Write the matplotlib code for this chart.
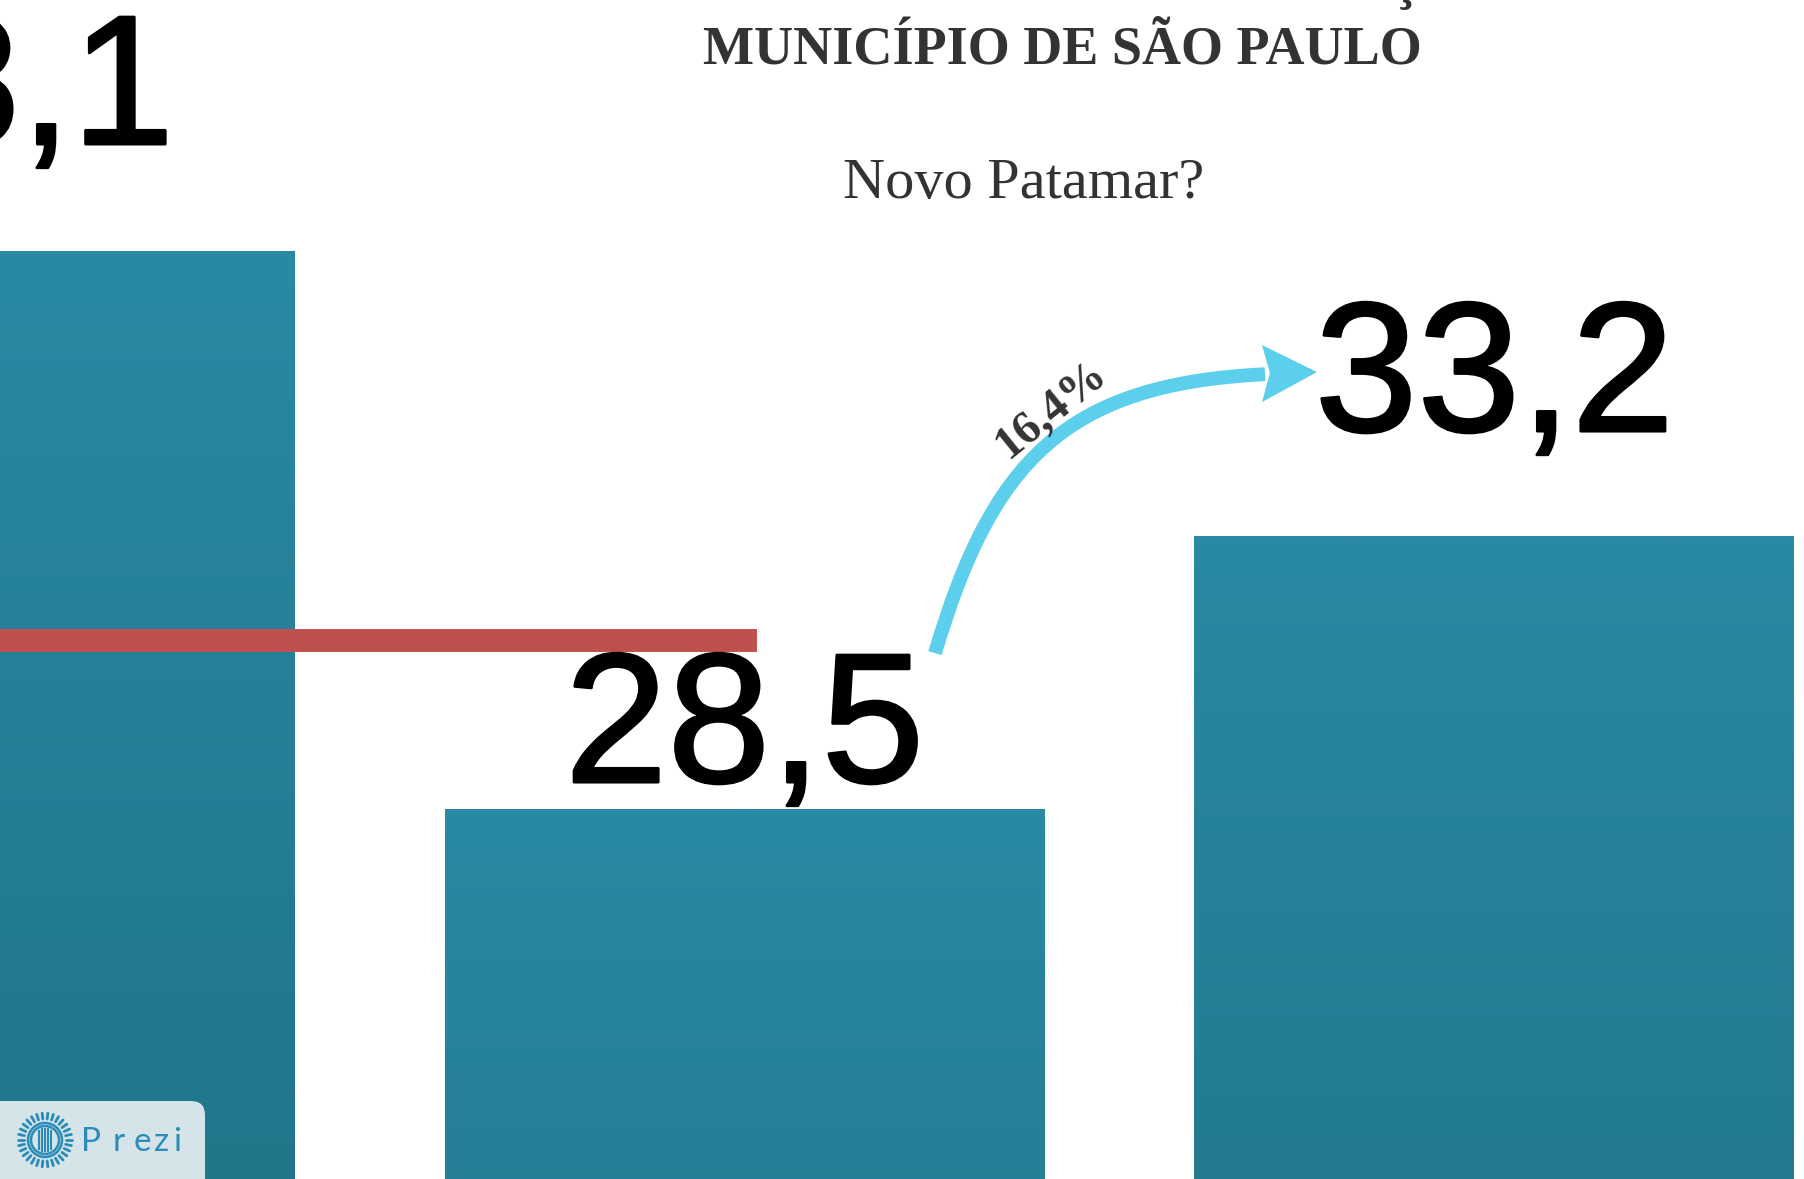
import matplotlib
matplotlib.use("Agg")
import matplotlib.pyplot as plt
import matplotlib.patheffects as pe
import numpy as np
from matplotlib.patches import FancyBboxPatch, PathPatch, Polygon, Circle
from matplotlib.path import Path

# dados do gráfico (recorte do slide)
posicoes = [0, 1, 2]
valores = [38.1, 28.5, 33.2]
rotulos = ["38,1", "28,5", "33,2"]
deslocamento_rotulo = [1.84, 0.46, 1.80]
media = 31.4
variacao = "16,4%"
titulo = "MUNICÍPIO DE SÃO PAULO"
subtitulo = "Novo Patamar?"

fig = plt.figure(figsize=(18.04, 11.79), dpi=100)
fig.patch.set_facecolor("white")
ax = fig.add_axes([0, 0, 1, 1])
ax.axis("off")

# barras com degradê (como no Excel)
barras = ax.bar(posicoes, valores, width=0.8, color="none", edgecolor="none", zorder=1)
topo = np.array([42, 137, 163]) / 255
base = np.array([21, 92, 103]) / 255
frac = np.linspace(0, 1, 256)[:, None]
img = (base + (topo - base) * frac)[:, None, :]
for b, v in zip(barras, valores):
    im = ax.imshow(img, extent=[b.get_x(), b.get_x() + b.get_width(), 0, v],
                   origin="lower", aspect="auto", interpolation="bilinear", zorder=1)
    im.set_clip_path(b)

ax.set_xlim(0.0073, 2.4127)
ax.set_ylim(22.13, 42.42)

# linha vermelha (patamar anterior)
ax.plot([0, 1], [media, media], color="#C0504D", lw=16.5,
        solid_capstyle="projecting", zorder=2)

# rótulos grandes (traço leve para ficar um pouco mais encorpado)
for p, v, r, d in zip(posicoes, valores, rotulos, deslocamento_rotulo):
    ax.text(p, v + d, r, ha="center", va="baseline", fontsize=133,
            family="Liberation Sans", color="black", zorder=3,
            path_effects=[pe.Stroke(linewidth=2, foreground="black"), pe.Normal()])

# seta curva com a variação
azul_seta = "#5BCFEB"
haste = Path([(1.254, 31.18), (1.330, 34.49), (1.427, 35.81), (1.694, 35.98)],
             [Path.MOVETO, Path.CURVE4, Path.CURVE4, Path.CURVE4])
ax.add_patch(PathPatch(haste, fc="none", ec=azul_seta, lw=10,
                       capstyle="butt", zorder=4))
ax.add_patch(Polygon([(1.7633, 36.017), (1.690, 36.482), (1.7006, 36.0),
                      (1.690, 35.501)], closed=True, fc=azul_seta, ec="none", zorder=4))
ax.text(1.4087, 35.36, variacao, rotation=39, ha="center", va="center",
        rotation_mode="anchor", fontsize=34, fontweight="bold",
        family="Liberation Serif", color="#333333", zorder=5)

# títulos
fig.text(1062 / 1804, 1 - 63 / 1179, titulo, ha="center", va="baseline",
         fontsize=39, fontweight="bold", family="Liberation Serif", color="#333333")
fig.text(1404 / 1804, 1 + 2 / 1179, "Ç", ha="center", va="baseline",
         fontsize=39, fontweight="bold", family="Liberation Serif", color="#333333")
fig.text(1024 / 1804, 1 - 198 / 1179, subtitulo, ha="center", va="baseline",
         fontsize=42, family="Liberation Serif", color="#333333")

# selo do Prezi no canto
ax2 = fig.add_axes([0, 0, 1, 1], zorder=10)
ax2.set_xlim(0, 1804)
ax2.set_ylim(1179, 0)
ax2.axis("off")
ax2.patch.set_alpha(0)
ax2.add_patch(FancyBboxPatch((-30, 1101), 235, 120,
                             boxstyle="round,pad=0,rounding_size=14",
                             fc="#D5E4E9", ec="none"))
azul = "#2B8CB8"
cx, cy = 45, 1140
for ang in np.linspace(0, 2 * np.pi, 30, endpoint=False):
    ax2.plot([cx + 21 * np.cos(ang), cx + 27 * np.cos(ang)],
             [cy + 21 * np.sin(ang), cy + 27 * np.sin(ang)],
             color=azul, lw=2, solid_capstyle="round")
for r in [17, 14]:
    ax2.add_patch(Circle((cx, cy), r, fc="none", ec=azul, lw=1.8))
for dx in [-6, -3, 0, 3, 6]:
    h = np.sqrt(11 ** 2 - dx ** 2)
    ax2.plot([cx + dx, cx + dx], [cy - h, cy + h], color=azul, lw=1.5)
for letra, lx in zip("Prezi", [91, 119, 142, 162, 177]):
    ax2.text(lx, 1142, letra, ha="center", va="center", fontsize=24,
             family="Lato", color=azul)

fig.savefig("out.png", dpi=100, facecolor="white")
